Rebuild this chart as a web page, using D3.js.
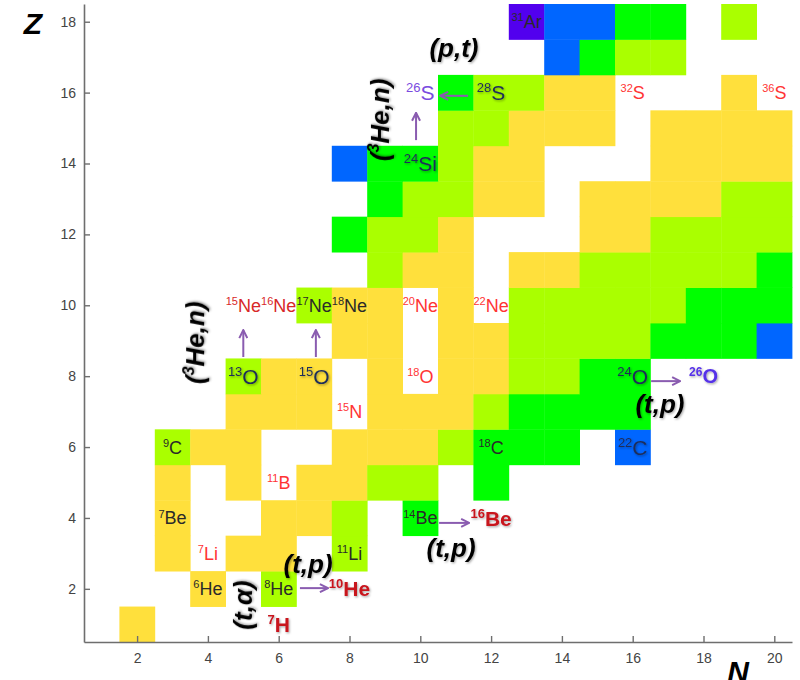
<!DOCTYPE html>
<html>
<head>
<meta charset="utf-8">
<script src="https://cdn.jsdelivr.net/npm/d3@7"></script>
<style>
  body { margin: 0; background: #fff; }
  svg { display: block; font-family: "Liberation Sans", Arial, sans-serif; }
</style>
</head>
<body>
<svg id="chart" width="800" height="680"></svg>
<script>
// axis ticks
const nTicks = [2, 4, 6, 8, 10, 12, 14, 16, 18, 20];
const zTicks = [2, 4, 6, 8, 10, 12, 14, 16, 18];

// one string per Z (1..18), one char per N (1..20)
// Y yellow, L lime, G green, B blue, P purple, . empty
const zRows = [1, 2, 3, 4, 5, 6, 7, 8, 9, 10, 11, 12, 13, 14, 15, 16, 17, 18];
const cellCodes = [
  ".Y..................",
  "...Y.L..............",
  "..Y.YY.L............",
  "..Y..YYL.G..........",
  "..Y.Y.YYLL.G........",
  "..LYY..YYYLGGG.B....",
  "....YYY.YYYLGGGG....",
  "....LYY.Y.YYLLGG....",
  ".......YY.YYLLLLGGGB",
  "......LYY.Y.LLLLLGGG",
  "........LYY.YYLLLLLG",
  ".......GLLY...YYLLLL",
  "........GLLYY.YYYYLL",
  ".......BGGLYY...YYYY",
  "..........LLYYY.YYYY",
  "..........GLLYY...Y.",
  ".............BGLL...",
  "............PBBGG.L."
];
const cellColors = { Y: "#ffe03c", L: "#aaff00", G: "#00ff00", B: "#0066ff", P: "#5200ee" };

// nuclide labels: [N, Z, mass, symbol, style]
const nuclides = [
  [3, 6, "9", "C", "dark"], [3, 4, "7", "Be", "dark"], [4, 3, "7", "Li", "stable"],
  [4, 2, "6", "He", "dark"], [6, 2, "8", "He", "dark"], [8, 2, "10", "He", "new"],
  [6, 1, "7", "H", "new"], [8, 3, "11", "Li", "dark"], [6, 5, "11", "B", "stable"],
  [5, 8, "13", "O", "navy"], [7, 8, "15", "O", "navy"], [8, 7, "15", "N", "stable"],
  [10, 8, "18", "O", "stable"], [5, 10, "15", "Ne", "unbound"], [6, 10, "16", "Ne", "unbound"],
  [7, 10, "17", "Ne", "dark"], [8, 10, "18", "Ne", "dark"], [10, 10, "20", "Ne", "stable"],
  [12, 10, "22", "Ne", "stable"], [10, 4, "14", "Be", "dark"], [12, 4, "16", "Be", "new"],
  [12, 6, "18", "C", "dark"], [16, 6, "22", "C", "navy"], [16, 8, "24", "O", "navy"],
  [18, 8, "26", "O", "target"], [10, 14, "24", "Si", "navy"], [10, 16, "26", "S", "purple"],
  [12, 16, "28", "S", "navy"], [16, 16, "32", "S", "stable"], [20, 16, "36", "S", "stable"],
  [13, 18, "31", "Ar", "dark"]
];

const labelStyles = {
  dark:    { color: "#2a2a2a", size: 18, bold: false },
  navy:    { color: "#1e2d5a", size: 21, bold: false },
  stable:  { color: "#ff3434", size: 18, bold: false },
  unbound: { color: "#d82828", size: 18, bold: false },
  new:     { color: "#c8141e", size: 21, bold: true },
  purple:  { color: "#7a4be0", size: 21, bold: false },
  target:  { color: "#5530e8", size: 20, bold: true }
};

// reaction arrows: [fromN, fromZ, toN, toZ]
const arrows = [
  [5, 8.54, 5, 9.3], [7.05, 8.54, 7.05, 9.3],
  [9.88, 14.66, 9.88, 15.43], [11.35, 15.91, 10.56, 15.91],
  [6.6, 2.02, 7.39, 2.02], [10.53, 3.86, 11.38, 3.86],
  [16.52, 7.86, 17.34, 7.86]
];

// reaction names: [N, Z, text, rotated]
const reactions = [
  [10.95, 17.01, "(p,t)", false],
  [6.83, 2.45, "(t,p)", false],
  [10.87, 2.9, "(t,p)", false],
  [16.77, 6.96, "(t,p)", false],
  [3.64, 8.94, "(3He,n)", true],
  [8.86, 15.23, "(3He,n)", true],
  [4.99, 1.54, "(t,α)", true]
];

const svg = d3.select("#chart");
const x = d3.scaleLinear().domain([0.5, 20.5]).range([84, 792]);
const y = d3.scaleLinear().domain([0.5, 18.5]).range([642, 4]);

const defs = svg.append("defs");
defs.append("filter").attr("id", "shadow")
    .attr("x", "-20%").attr("y", "-20%").attr("width", "140%").attr("height", "140%")
  .append("feDropShadow")
    .attr("dx", 1).attr("dy", 1.2).attr("stdDeviation", 0.9)
    .attr("flood-color", "#000").attr("flood-opacity", 0.35);
defs.append("marker").attr("id", "head")
    .attr("viewBox", "0 0 10 10").attr("refX", 9).attr("refY", 5)
    .attr("markerWidth", 10).attr("markerHeight", 10)
    .attr("markerUnits", "userSpaceOnUse").attr("orient", "auto")
  .append("path")
    .attr("d", "M1,1 L9,5 L1,9")
    .attr("fill", "none").attr("stroke", "#8a5cb0").attr("stroke-width", 2);

// cells
let cells = [];
cellCodes.forEach((row, i) => {
    for (let j = 0; j < row.length; j++) {
        if (row[j] !== ".") cells.push({ n: j + 1, z: zRows[i], c: row[j] });
    }
});
svg.append("g").selectAll("rect").data(cells).join("rect")
    .attr("x", d => x(d.n - 0.5))
    .attr("y", d => y(d.z + 0.5))
    .attr("width", d => x(d.n + 0.5) - x(d.n - 0.5) + 0.4)
    .attr("height", d => y(d.z - 0.5) - y(d.z + 0.5) + 0.4)
    .attr("fill", d => cellColors[d.c]);

// axes
const xAxis = d3.axisBottom(x).tickValues(nTicks).tickSize(-6).tickSizeOuter(0).tickPadding(11);
const yAxis = d3.axisLeft(y).tickValues(zTicks).tickSize(-6).tickSizeOuter(0).tickPadding(8);
const gx = svg.append("g").attr("transform", "translate(0,642)").call(xAxis);
const gy = svg.append("g").attr("transform", "translate(84,0)").call(yAxis);
[gx, gy].forEach(g => {
    g.select(".domain").attr("stroke", "#6e6e6e").attr("stroke-width", 1.6);
    g.selectAll(".tick line").attr("stroke", "#6e6e6e").attr("stroke-width", 1.4);
    g.selectAll(".tick text").attr("fill", "#444").attr("font-size", 14)
        .attr("font-family", "Liberation Sans, Arial, sans-serif");
});

svg.append("text").attr("x", 33).attr("y", 34).attr("text-anchor", "middle")
    .attr("font-size", 30).attr("font-weight", "bold").attr("font-style", "italic")
    .attr("fill", "#000").text("Z");
svg.append("text").attr("x", 738).attr("y", 682).attr("text-anchor", "middle")
    .attr("font-size", 30).attr("font-weight", "bold").attr("font-style", "italic")
    .attr("fill", "#000").text("N");

// arrows
svg.append("g").selectAll("line").data(arrows).join("line")
    .attr("x1", d => x(d[0])).attr("y1", d => y(d[1]))
    .attr("x2", d => x(d[2])).attr("y2", d => y(d[3]))
    .attr("stroke", "#8a5cb0").attr("stroke-width", 2)
    .attr("marker-end", "url(#head)");

// nuclide labels
const lab = svg.append("g").selectAll("text").data(nuclides).join("text")
    .attr("x", d => x(d[0]))
    .attr("y", d => y(d[1]) + labelStyles[d[4]].size * 0.36)
    .attr("text-anchor", "middle")
    .attr("fill", d => labelStyles[d[4]].color)
    .attr("font-weight", d => labelStyles[d[4]].bold ? "bold" : "normal")
    .attr("filter", d => (d[4] === "new" || d[4] === "target" || d[4] === "navy") ? "url(#shadow)" : null);
lab.append("tspan")
    .attr("font-size", d => Math.round(labelStyles[d[4]].size * 0.62))
    .attr("dy", d => -labelStyles[d[4]].size * 0.38)
    .text(d => d[2]);
lab.append("tspan")
    .attr("font-size", d => labelStyles[d[4]].size)
    .attr("dy", d => labelStyles[d[4]].size * 0.38)
    .text(d => d[3]);

// reaction names
const rx = svg.append("g").selectAll("text").data(reactions).join("text")
    .attr("transform", d => d[3]
        ? `translate(${x(d[0])},${y(d[1])}) rotate(-90)`
        : `translate(${x(d[0])},${y(d[1])})`)
    .attr("dy", d => d[3] ? "0.36em" : 0)
    .attr("text-anchor", "middle")
    .attr("font-size", 26).attr("font-weight", "bold").attr("font-style", "italic")
    .attr("fill", "#000").attr("filter", "url(#shadow)");
rx.each(function (d) {
    const t = d3.select(this);
    if (d[2].startsWith("(3")) {
        t.append("tspan").text("(");
        t.append("tspan").attr("font-size", 16).attr("dy", -10).text("3");
        t.append("tspan").attr("dy", 10).text("He,n)");
    } else {
        t.text(d[2]);
    }
});
</script>
</body>
</html>
